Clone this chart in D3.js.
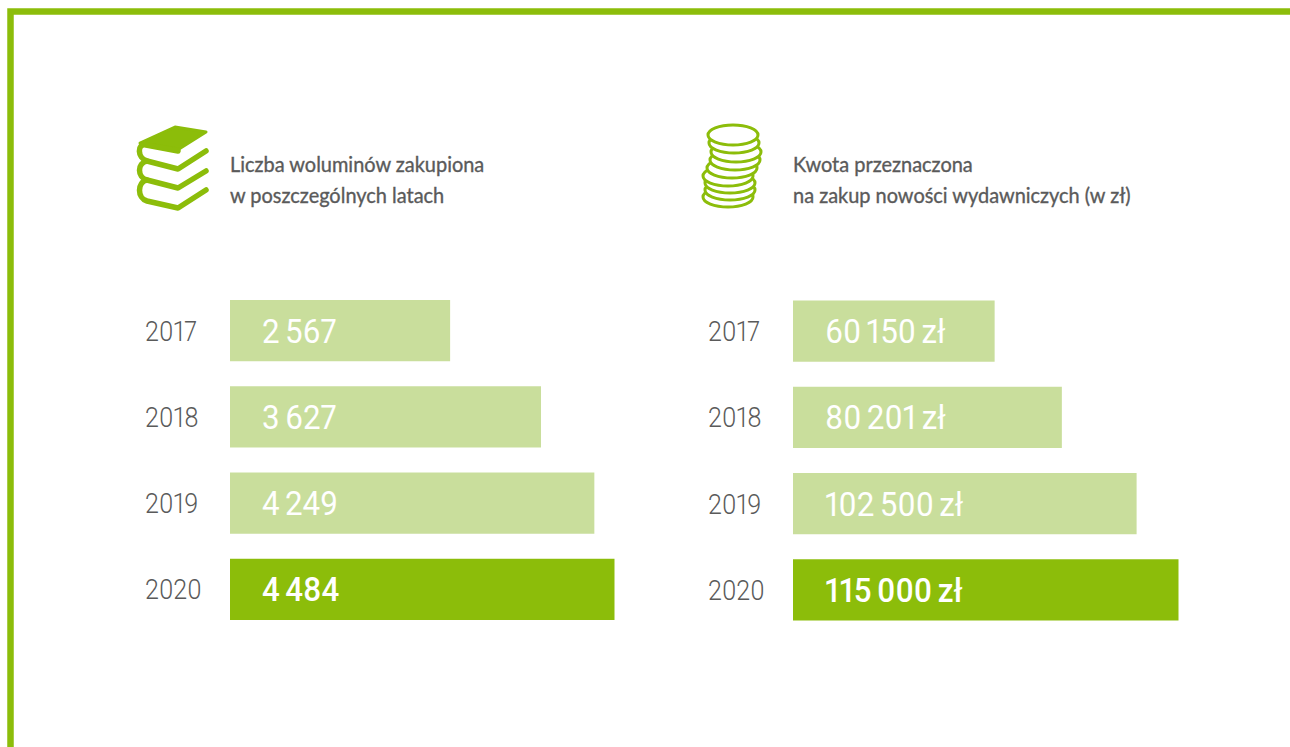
<!DOCTYPE html>
<html><head><meta charset="utf-8">
<style>html,body{margin:0;padding:0;background:#fff;overflow:hidden}svg{display:block}</style>
<script src="https://cdn.jsdelivr.net/npm/d3@7/dist/d3.min.js"></script></head>
<body><svg id="c" width="1290" height="747"></svg>
<script>
const years = ["2017","2018","2019","2020"];
const volumes = [2567,3627,4249,4484];
const volumeLabels = ["2 567","3 627","4 249","4 484"];
const amounts = [60150,80201,102500,115000];
const amountLabels = ["60 150 zł","80 201 zł","102 500 zł","115 000 zł"];
const titleLeft = ["Liczba woluminów zakupiona","w poszczególnych latach"];
const titleRight = ["Kwota przeznaczona","na zakup nowości wydawniczych (w zł)"];
const GREEN="#8cbd0a", LIGHT="#c9de9c", GREY="#5a5a5a";
const svg=d3.select("#c");
svg.append("path").attr("d","M1290 11.5H10.5V747").attr("fill","none").attr("stroke",GREEN).attr("stroke-width",6.5);

const y=d3.scaleBand().domain(years).range([300,620]).paddingInner(0.29).paddingOuter(0);
function panel(x0,x1,yearX,vals,labels,title,yOff){
  const xs=d3.scaleLinear().domain([0,d3.max(vals)]).range([x0,x1]);
  const g=svg.append("g").attr("transform",`translate(0,${yOff})`);
  g.selectAll("rect").data(vals).join("rect")
    .attr("x",x0).attr("y",(d,i)=>y(years[i])).attr("height",y.bandwidth())
    .attr("width",d=>xs(d)-x0).attr("fill",(d,i)=>i===3?GREEN:LIGHT);
  g.selectAll("text.yr").data(years).join("text").attr("class","yr")
    .attr("transform",d=>`translate(${yearX},${y(d)+y.bandwidth()/2+10}) scale(0.93,1)`).text(d=>d)
    .style("font-feature-settings","'pnum'")
    .attr("font-family","Roboto").attr("font-weight",300).attr("font-size",27).attr("fill",GREY);
  g.selectAll("text.val").data(labels).join("text").attr("class","val")
    .attr("transform",(d,i)=>`translate(${x0+32},${y(years[i])+y.bandwidth()/2+12}) scale(0.95,1)`).text(d=>d)
    .style("font-feature-settings","'pnum'").style("word-spacing","-2.5px")
    .attr("font-family","Roboto").attr("font-weight",(d,i)=>i===3?500:400).attr("font-size",33).attr("fill","#fff");
  svg.selectAll(null).data(title).join("text")
    .attr("transform",(d,i)=>`translate(${x0},${172+i*30.5}) scale(0.95,1)`).text(d=>d)
    .attr("font-family","Lato").attr("font-weight",400).attr("font-size",21).attr("fill",GREY)
    .attr("stroke",GREY).attr("stroke-width",0.35);
}
panel(230,614.5,145,volumes,volumeLabels,titleLeft,0);
panel(793,1178.5,708,amounts,amountLabels,titleRight,0.5);

// book icon
const book=svg.append("g").attr("fill","none").attr("stroke",GREEN).attr("stroke-width",5.5).attr("stroke-linecap","round").attr("stroke-linejoin","round");
book.append("path").attr("fill",GREEN).attr("stroke-width",3).attr("d","M140 143L175 127L206 132L179 149L147 144Z");
book.append("path").attr("d","M178 151L146 145C137 143 137 158 147 161L178 169L206 151");
book.append("path").attr("d","M147 161C137 163 137 177 147 180L178 188L206 171");
book.append("path").attr("d","M147 180C137 182 137 198 147 201L178 208L206 190");

// coins icon
const coinList=[[728,197],[730,190],[730,183],[728,176],[732,168],[735,160],[736,152],[734,143],[733,135]];
svg.append("g").selectAll("ellipse").data(coinList).join("ellipse")
  .attr("cx",d=>d[0]).attr("cy",d=>d[1]).attr("rx",25).attr("ry",10)
  .attr("fill","#fff").attr("stroke",GREEN).attr("stroke-width",3);
</script></body></html>
